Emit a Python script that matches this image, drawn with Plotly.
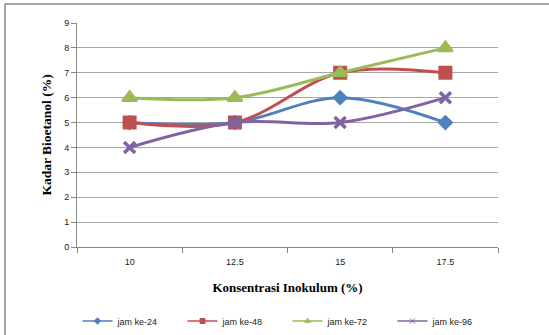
import plotly.graph_objects as go

# Konsentrasi inokulum (%) dan kadar bioetanol (%) per waktu fermentasi
konsentrasi = ["10", "12.5", "15", "17.5"]
jam_24 = [5, 5, 6, 5]
jam_48 = [5, 5, 7, 7]
jam_72 = [6, 6, 7, 8]
jam_96 = [4, 5, 5, 6]

series = [
    ("jam ke-24", jam_24, "#4F81BD", "diamond", 10),
    ("jam ke-48", jam_48, "#C0504D", "square", 12),
    ("jam ke-72", jam_72, "#9BBB59", "triangle-up", 13),
    ("jam ke-96", jam_96, "#8064A2", "x-thin", 11),
]

fig = go.Figure()
for name, vals, color, symbol, size in series:
    fig.add_trace(go.Scatter(
        x=konsentrasi, y=vals, name=name, mode="lines+markers",
        showlegend=False, legendgroup=name,
        line=dict(color=color, width=3, shape="spline", smoothing=1),
        marker=dict(symbol=symbol, size=size, color=color,
                    line=dict(color=color, width=2 if symbol != "x-thin" else 3.5)),
    ))
# compact legend keys (thin line, small marker)
for name, vals, color, symbol, size in series:
    fig.add_trace(go.Scatter(
        x=[None], y=[None], name=name, mode="lines+markers",
        legendgroup=name,
        line=dict(color=color, width=1.5),
        marker=dict(symbol=symbol, size=5, color=color,
                    line=dict(color=color, width=1)),
    ))

ml, mr, mt, mb = 77, 51, 23, 88
W, H = 549, 335
pw, ph = W - ml - mr, H - mt - mb

def px_x(p):
    return (p - ml) / pw

def px_y(p):
    return 1 - (p - mt) / ph

fig.update_layout(
    width=W, height=H,
    margin=dict(l=ml, r=mr, t=mt, b=mb),
    paper_bgcolor="white", plot_bgcolor="white",
    showlegend=True,
    legend=dict(
        orientation="h", x=0.5, xanchor="center",
        yref="container", y=1 - 321 / H, yanchor="middle",
        font=dict(family="Liberation Sans", size=9, color="#222"),
        entrywidth=60, entrywidthmode="pixels",
        itemwidth=30, itemsizing="trace",
    ),
    xaxis=dict(
        type="category", range=[-0.5, 3.5],
        tickson="boundaries", ticks="outside", ticklen=5,
        tickcolor="#888", showline=True, linecolor="#888", linewidth=1,
        showgrid=False, ticklabelstandoff=6,
        tickfont=dict(family="Liberation Sans", size=9, color="#222"),
        title=dict(text="Konsentrasi Inokulum (%)", standoff=17,
                   font=dict(family="Liberation Serif", size=13, color="black",
                             weight="bold")),
    ),
    yaxis=dict(
        range=[0, 9], dtick=1, ticks="outside", ticklen=5,
        tickcolor="#888", showline=True, linecolor="#888", linewidth=1,
        showgrid=True, gridcolor="#a6a6a6", gridwidth=1,
        zeroline=False,
        tickfont=dict(family="Liberation Sans", size=9, color="#222"),
        title=dict(text="Kadar Bioetanol (%)", standoff=9,
                   font=dict(family="Liberation Serif", size=13.5, color="black",
                             weight="bold")),
    ),
    shapes=[dict(
        type="rect", xref="paper", yref="paper",
        x0=px_x(5), x1=px_x(553), y0=px_y(340), y1=px_y(4),
        line=dict(color="#8c8c8c", width=1.5), fillcolor="rgba(0,0,0,0)",
        layer="below",
    )],
)

fig.write_html("out.html")
